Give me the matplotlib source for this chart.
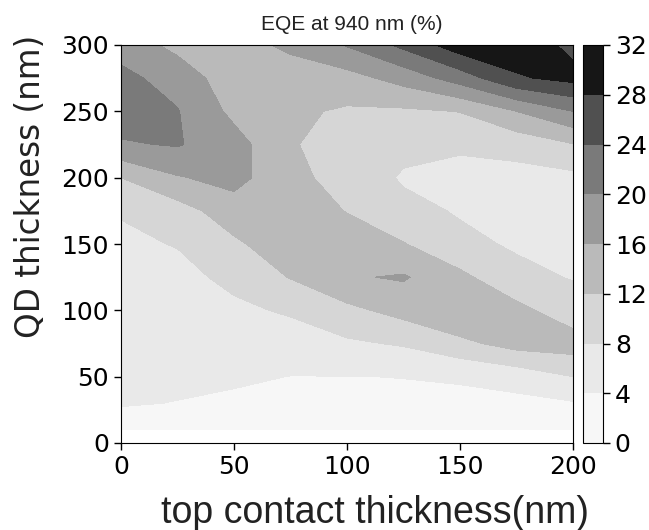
import numpy as np
import matplotlib
matplotlib.use("Agg")
import matplotlib.pyplot as plt

# top contact thickness (nm) and QD thickness (nm) grid
top_contact = [0, 25, 50, 75, 100, 125, 150, 175, 200]
qd_thickness = [10, 30, 50, 75, 100, 125, 150, 175, 200, 225, 250, 275, 300]

# EQE at 940 nm (%), one list per top contact thickness (columns)
eqe_x0   = [2.0, 4.3, 5.0, 5.6, 6.2, 6.8, 7.2, 8.3, 12.0, 19.6, 22.0, 21.0, 18.5]
eqe_x25  = [2.0, 3.9, 4.8, 5.4, 6.0, 6.8, 8.2, 10.3, 15.7, 20.3, 20.2, 18.5, 14.8]
eqe_x50  = [2.2, 3.4, 4.5, 5.6, 7.2, 9.0, 11.3, 14.2, 17.3, 17.6, 15.0, 13.5, 14.5]
eqe_x75  = [2.4, 3.2, 3.95, 6.0, 8.5, 12.2, 14.5, 15.0, 13.2, 12.4, 12.7, 14.0, 16.8]
eqe_x100 = [2.5, 3.3, 3.95, 7.4, 11.0, 15.6, 14.5, 11.8, 10.3, 9.9, 11.5, 14.5, 20.3]
eqe_x125 = [2.5, 3.4, 4.05, 8.4, 13.4, 16.4, 12.2, 9.0, 7.6, 9.0, 11.4, 17.5, 25.0]
eqe_x150 = [2.6, 3.3, 4.3, 11.0, 15.8, 13.0, 8.8, 7.7, 5.9, 9.0, 12.1, 21.85, 30.3]
eqe_x175 = [2.7, 3.0, 5.6, 13.6, 13.2, 8.9, 7.6, 6.0, 6.6, 9.5, 16.0, 27.5, 30.5]
eqe_x200 = [2.8, 3.7, 8.0, 14.0, 9.5, 7.8, 5.6, 5.0, 7.0, 11.8, 20.0, 29.2, 27.0]

levels = [0, 4, 8, 12, 16, 20, 24, 28, 32]
shades = ['#f7f7f7', '#e9e9e9', '#d6d6d6', '#bababa',
          '#9a9a9a', '#7a7a7a', '#505050', '#161616']

eqe = np.array([eqe_x0, eqe_x25, eqe_x50, eqe_x75, eqe_x100,
                eqe_x125, eqe_x150, eqe_x175, eqe_x200]).T

W, H = 649, 530
fig = plt.figure(figsize=(W / 100, H / 100), dpi=100)
ax = fig.add_axes([121/W, 87/H, 452/W, 398/H])
cax = fig.add_axes([583/W, 87/H, 20/W, 398/H])

cs = ax.contourf(top_contact, qd_thickness, eqe, levels=levels, colors=shades)
ax.set_xlim(0, 200)
ax.set_ylim(0, 300)
ax.set_xticks([0, 50, 100, 150, 200])
ax.set_yticks([0, 50, 100, 150, 200, 250, 300])
ax.tick_params(labelsize=18, length=5, width=1)

# labels sit off-centre in the reference, so place them on the figure
fig.text(375/W, (H - 523)/H, 'top contact thickness(nm)', fontsize=27,
         family='Liberation Sans', ha='center', va='baseline', color='#222222')
fig.text(31/W, (H - 186)/H, 'QD thickness (nm)', fontsize=23.5,
         rotation=90, ha='center', va='center', color='#222222')
fig.text(352/W, (H - 30)/H, 'EQE at 940 nm (%)', fontsize=15,
         family='Liberation Sans', ha='center', va='baseline', color='#222222')

cb = fig.colorbar(cs, cax=cax)
cb.set_ticks(levels)
cb.ax.tick_params(labelsize=18, length=5, width=1)

fig.savefig('out.png', dpi=100)
